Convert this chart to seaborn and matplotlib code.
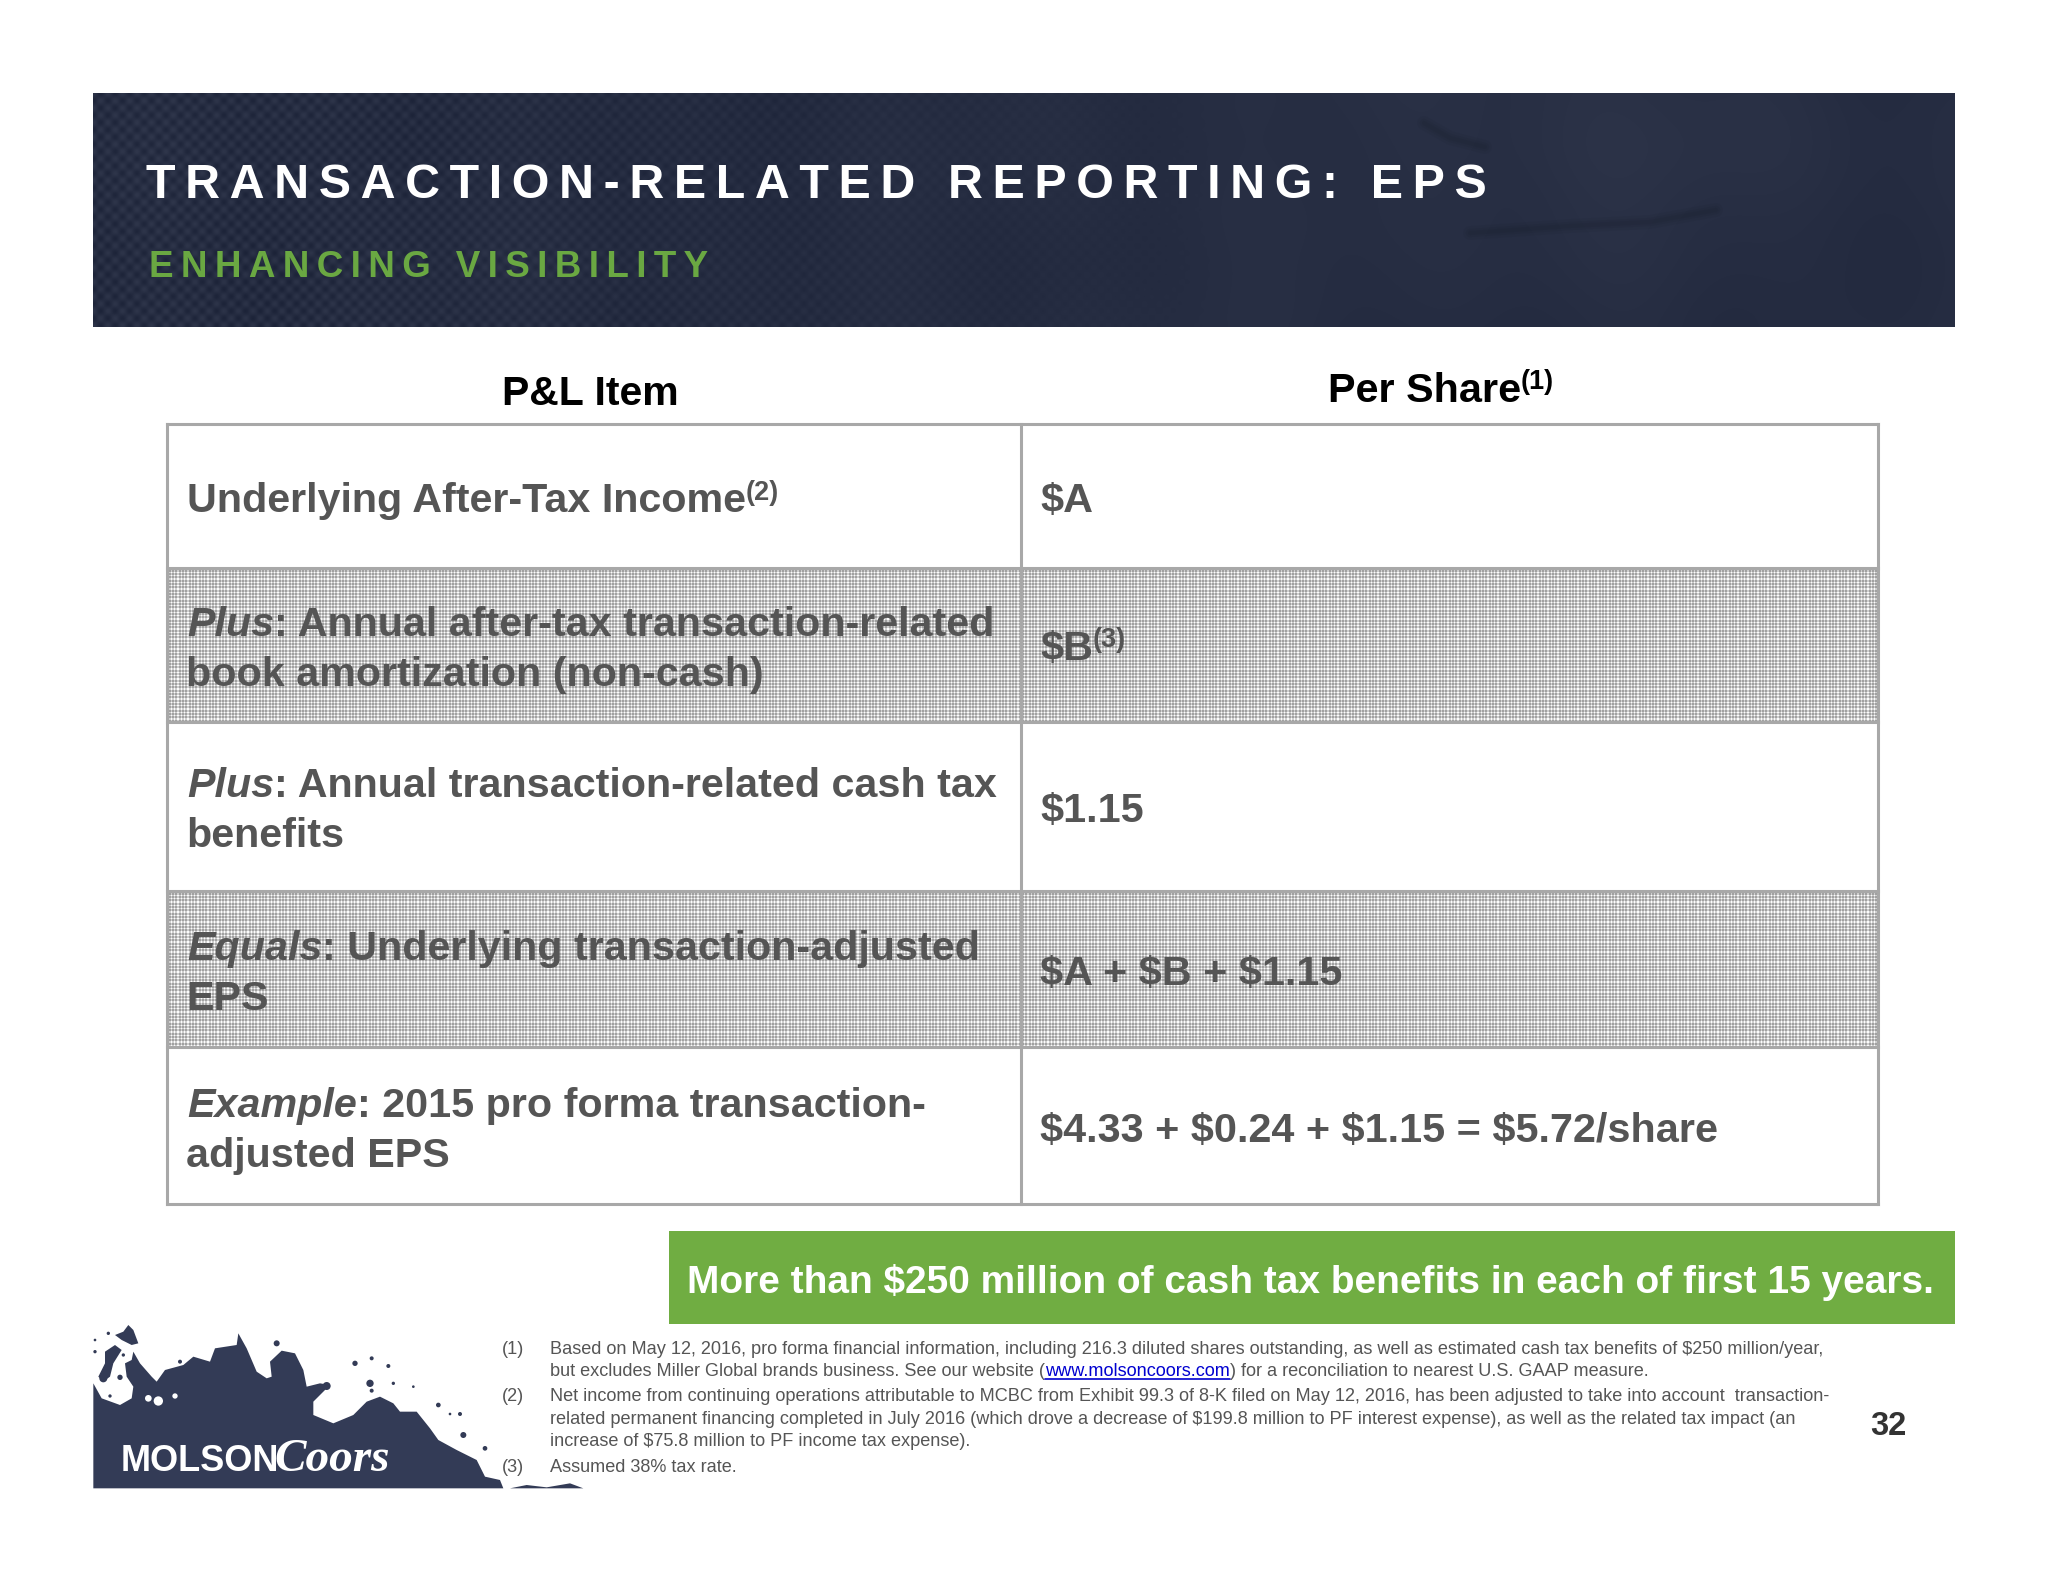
#!/usr/bin/env python3
# -*- coding: utf-8 -*-

import numpy as np
import seaborn as sns
import matplotlib
matplotlib.use("Agg")
import matplotlib.pyplot as plt

sns.set_theme(style="white")
plt.rcParams["font.family"] = ["Liberation Sans", "DejaVu Sans"]

W, H = 2048, 1582
GREY_TEXT = "#555555"
GREEN = "#70ad42"
BORDER = "#a8a8a8"
NAVY = "#333b56"

TITLE = "TRANSACTION-RELATED REPORTING: EPS"
SUBTITLE = "ENHANCING VISIBILITY"
COL_HEADERS = ["P&L Item", "Per Share"]
ROW_EDGES = [424, 568, 722, 891, 1047, 1204]
ROW_SHADED = [False, True, False, True, False]

# each row: list of lines, each line a list of (text, style) runs
ROW_LABELS = [
    [[("Underlying After-Tax Income", "n"), ("(2)", "s")]],
    [[("Plus", "i"), (": Annual after-tax transaction-related", "n")], [("book amortization (non-cash)", "n")]],
    [[("Plus", "i"), (": Annual transaction-related cash tax", "n")], [("benefits", "n")]],
    [[("Equals", "i"), (": Underlying transaction-adjusted", "n")], [("EPS", "n")]],
    [[("Example", "i"), (": 2015 pro forma transaction-", "n")], [("adjusted EPS", "n")]],
]
ROW_BASELINES = [[512], [636, 686], [797, 847], [960, 1010], [1117, 1167]]
PER_SHARE = [
    [("$A", "n")],
    [("$B", "n"), ("(3)", "s")],
    [("$1.15", "n")],
    [("$A + $B + $1.15", "n")],
    [("$4.33 + $0.24 + $1.15 = $5.72/share", "n")],
]
PER_SHARE_BASELINES = [512, 660, 822, 985, 1142]
CALLOUT = "More than $250 million of cash tax benefits in each of first 15 years."

FOOTNOTE_MARKS = [("(1)", 1354), ("(2)", 1401), ("(3)", 1472)]
FOOTNOTES = [
    ("Based on May 12, 2016, pro forma financial information, including 216.3 diluted shares outstanding, as well as estimated cash tax benefits of $250 million/year,", 1354),
    ("Net income from continuing operations attributable to MCBC from Exhibit 99.3 of 8-K filed on May 12, 2016, has been adjusted to take into account  transaction-", 1401),
    ("related permanent financing completed in July 2016 (which drove a decrease of $199.8 million to PF interest expense), as well as the related tax impact (an", 1424),
    ("increase of $75.8 million to PF income tax expense).", 1446),
    ("Assumed 38% tax rate.", 1472),
]
LINK_LINE = ["but excludes Miller Global brands business. See our website (", "www.molsoncoors.com", ") for a reconciliation to nearest U.S. GAAP measure."]
PAGE = "32"

LOGO_OUTLINE = [(40, 565), (40, 250), (65, 295), (120, 315), (155, 295), (160, 260), (140, 230), (135, 190), (155, 180),
                (160, 155), (180, 190), (215, 230), (230, 245), (255, 210), (310, 195), (340, 170), (390, 185),
                (405, 145), (470, 135), (475, 100), (500, 145), (530, 215), (560, 235), (575, 230), (570, 185),
                (605, 152), (645, 160), (670, 210), (680, 260), (720, 250), (750, 255), (700, 305), (700, 345),
                (760, 370), (820, 345), (860, 305), (900, 290), (940, 310), (960, 335), (1010, 335), (1050, 385),
                (1075, 420), (1130, 450), (1190, 480), (1215, 530), (1260, 540), (1270, 565)]
LOGO_STAR = [(105, 105), (130, 95), (145, 75), (160, 90), (175, 130), (155, 135), (125, 120)]
LOGO_STRIP = [(75, 155), (105, 135), (125, 150), (100, 190), (90, 230), (70, 245), (55, 230), (75, 190)]
LOGO_TAIL = [(1290, 565), (1340, 555), (1400, 562), (1470, 550), (1510, 565)]
LOGO_SPECKS = [(590, 130, 9), (825, 190, 8), (875, 175, 6), (925, 198, 6), (870, 250, 11), (875, 272, 6), (940, 250, 5),
               (1000, 260, 4), (1075, 315, 7), (1140, 342, 6), (1150, 405, 9), (1215, 445, 7), (300, 185, 6),
               (85, 100, 5), (45, 120, 4), (1110, 342, 4), (90, 288, 5), (120, 232, 8), (70, 235, 12), (45, 155, 5),
               (130, 165, 5), (740, 258, 12)]
LOGO_HOLES = [(205, 295, 10), (235, 303, 14), (285, 288, 8)]


def logo_xy(x, y):
    return 80 + x / 3, 1300 + y / 3


def draw_runs(ax, fig, x, y, runs, size, color):
    # runs drawn one after the other, widths measured from the renderer
    renderer = fig.canvas.get_renderer()
    for text, style in runs:
        if style == "s":
            t = ax.text(x, y - size * 0.42, text, fontsize=size * 0.66, fontweight="bold", color=color, va="baseline", parse_math=False, zorder=3)
        elif style == "i":
            t = ax.text(x, y, text, fontsize=size, fontweight="bold", fontstyle="italic", color=color, va="baseline", parse_math=False, zorder=3)
        else:
            t = ax.text(x, y, text, fontsize=size, fontweight="bold", color=color, va="baseline", parse_math=False, zorder=3)
        x += t.get_window_extent(renderer).width
    return x


def fill_logo(ax, outline):
    pts = [logo_xy(*p) for p in outline]
    ax.fill([p[0] for p in pts], [p[1] for p in pts], color=NAVY, lw=0, zorder=1)


def main():
    fig = plt.figure(figsize=(W / 100, H / 100), dpi=100)
    ax = fig.add_axes([0, 0, 1, 1])
    ax.set_axis_off()

    # banner texture
    bx0, bx1, by0, by1 = 93, 1955, 93, 327
    yy, xx = np.mgrid[0:by1 - by0, 0:bx1 - bx0]
    mottled = (np.sin(xx / 61.0 + yy / 140.0) + np.sin(xx / 29.0 - yy / 210.0) + np.sin(xx / 143.0 + np.sin(yy / 37.0))) / 3
    dots = np.cos(2 * np.pi * xx / 14.5) * np.cos(2 * np.pi * yy / 14.5) * np.clip(1.25 - xx / 900.0, 0, 1)
    base = np.array([0x25, 0x2c, 0x41]) / 255
    banner = base[None, None, :] + mottled[..., None] * 0.01 + dots[..., None] * 0.03
    glow = np.exp(-(((xx - 1500) / 220.0) ** 2 + ((yy - 40) / 130.0) ** 2))
    banner = banner + glow[..., None] * 0.025
    ax.imshow(np.clip(banner, 0, 1), extent=(bx0, bx1, by1, by0), aspect="auto", interpolation="bilinear", zorder=1)
    for vx, vy in [([1470, 1570, 1650, 1716], [233, 226, 222, 210]), ([1424, 1450, 1485], [123, 138, 147])]:
        for lw, alpha in [(10, 0.08), (6, 0.1), (3, 0.1)]:
            ax.plot(vx, vy, color="#151a28", lw=lw, alpha=alpha, zorder=1, solid_capstyle="round")

    # table shading, fine grey mesh
    for i, shaded in enumerate(ROW_SHADED):
        if not shaded:
            continue
        top, bottom = ROW_EDGES[i], ROW_EDGES[i + 1]
        yy, xx = np.mgrid[0:bottom - top, 0:1878 - 167]
        col_on = (xx * 3) % 10 < 4
        row_on = (yy * 3) % 10 < 4
        mesh = 0.63 + 0.18 * col_on + 0.18 * row_on
        ax.imshow(mesh, cmap="gray", vmin=0, vmax=1, extent=(167, 1878, bottom, top), aspect="auto",
                  interpolation="nearest", zorder=1)

    # table borders
    for y in ROW_EDGES:
        ax.plot([167, 1878], [y, y], color=BORDER, lw=2.2, zorder=2, solid_capstyle="projecting")
    for x in [167, 1021, 1878]:
        ax.plot([x, x], [ROW_EDGES[0], ROW_EDGES[-1]], color=BORDER, lw=2.2, zorder=2, solid_capstyle="projecting")

    # banner text
    ax.text(146, 198, "\u2009".join(TITLE), fontsize=34.85, fontweight="bold", color="white", va="baseline", zorder=3)
    ax.text(149, 277, "\u2009".join(SUBTITLE), fontsize=26.5, fontweight="bold", color="#6aa842", va="baseline", zorder=3)

    # headers
    ax.text(590, 405, COL_HEADERS[0], fontsize=29.5, fontweight="bold", color="black", ha="center", va="baseline", zorder=3)
    draw_runs(ax, fig, 1328, 402, [(COL_HEADERS[1], "n"), ("(1)", "s")], 29.8, "black")

    # rows
    for lines, baselines in zip(ROW_LABELS, ROW_BASELINES):
        for k, (runs, y) in enumerate(zip(lines, baselines)):
            draw_runs(ax, fig, 187 if k == 0 else 186, y, runs, 29.7, GREY_TEXT)
    for runs, y in zip(PER_SHARE, PER_SHARE_BASELINES):
        draw_runs(ax, fig, 1040, y, runs, 29.8, GREY_TEXT)

    # callout
    ax.fill([669, 1955, 1955, 669], [1231, 1231, 1324, 1324], color=GREEN, lw=0, zorder=1)
    ax.text(687, 1293, CALLOUT, fontsize=27.96, fontweight="bold", color="white", va="baseline", parse_math=False, zorder=3)

    # logo
    for outline in [LOGO_OUTLINE, LOGO_STAR, LOGO_STRIP, LOGO_TAIL]:
        fill_logo(ax, outline)
    for cx, cy, r in LOGO_SPECKS:
        px, py = logo_xy(cx, cy)
        ax.add_patch(plt.Circle((px, py), r / 3, color=NAVY, lw=0, zorder=1))
    for cx, cy, r in LOGO_HOLES:
        px, py = logo_xy(cx, cy)
        ax.add_patch(plt.Circle((px, py), r / 3, color="white", lw=0, zorder=1))
    ax.text(121, 1471, "MOLSON", fontsize=26, color="white", fontweight="bold", va="baseline", zorder=3)
    ax.text(274, 1471, "Coors", fontsize=34, color="white", family="Liberation Serif", fontstyle="italic", fontweight="bold", va="baseline", zorder=3)

    # footnotes
    for mark, y in FOOTNOTE_MARKS:
        ax.text(502, y, mark, fontsize=13.05, color=GREY_TEXT, va="baseline", zorder=3)
    for line, y in FOOTNOTES:
        ax.text(550, y, line, fontsize=13.05, color=GREY_TEXT, va="baseline", parse_math=False, zorder=3)
    renderer = fig.canvas.get_renderer()
    x = 550
    for part, c in zip(LINK_LINE, [GREY_TEXT, "#0000d0", GREY_TEXT]):
        t = ax.text(x, 1376, part, fontsize=13.05, color=c, va="baseline", zorder=3)
        w = t.get_window_extent(renderer).width
        if c != GREY_TEXT:
            ax.plot([x, x + w], [1379, 1379], color=c, lw=1.2, zorder=3)
        x += w

    ax.text(1870, 1435, PAGE, fontsize=23.5, fontweight="bold", color="#333333", va="baseline", zorder=3)

    ax.set_xlim(0, W)
    ax.set_ylim(H, 0)
    fig.savefig("out.png", dpi=100, facecolor="white")


if __name__ == "__main__":
    main()
